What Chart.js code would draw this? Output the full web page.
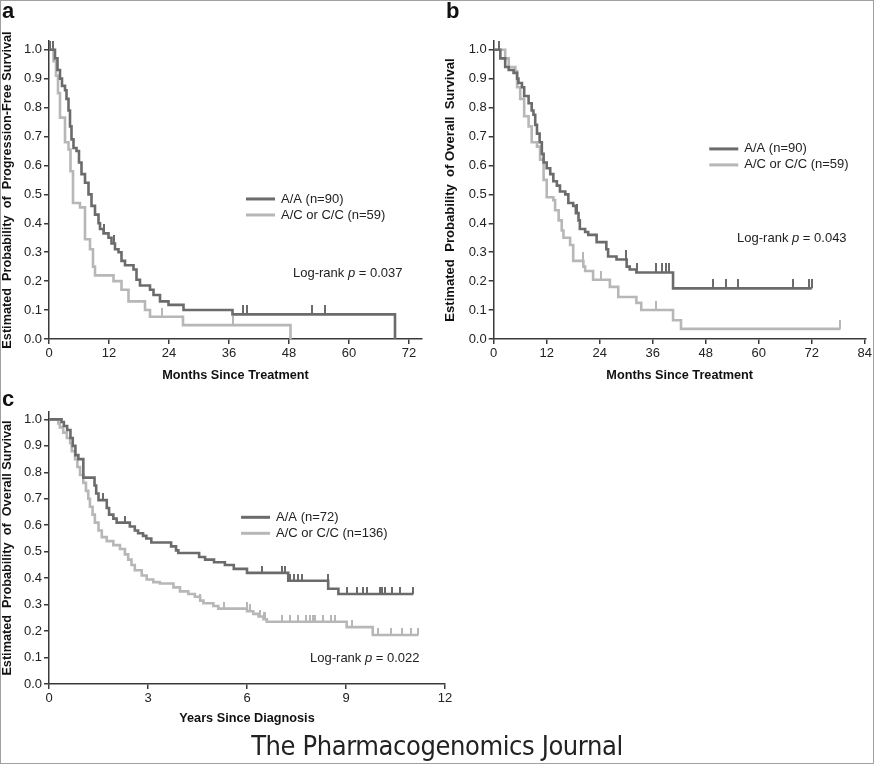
<!DOCTYPE html>
<html>
<head>
<meta charset="utf-8">
<title>Kaplan-Meier curves</title>
<script src="https://cdn.jsdelivr.net/npm/chart.js@4.4.0/dist/chart.umd.min.js"></script>
<style>
  html, body { margin: 0; padding: 0; background: #fff; }
  #page { position: relative; width: 874px; height: 764px; overflow: hidden; }
  #frame { position: absolute; left: 0; top: 0; right: 0; bottom: 0; border: 1px solid #a0a0a0; pointer-events: none; }
  .panel { position: absolute; }
  .tag { position: absolute; font: bold 22px "Liberation Sans", Arial, sans-serif; color: #111; line-height: 22px; }
  #journal { position: absolute; left: 0; width: 874px; top: 729px; line-height: 34px; text-align: center;
             font-family: "Liberation Sans Narrow", "DejaVu Sans Condensed", sans-serif; font-stretch: condensed;
             font-size: 27px; letter-spacing: -0.4px; color: #222; }
</style>
</head>
<body>
<div id="page">
  <div class="panel" style="left:0;top:0"><canvas id="chartA" width="437" height="385"></canvas></div>
  <div class="panel" style="left:437px;top:0"><canvas id="chartB" width="437" height="385"></canvas></div>
  <div class="panel" style="left:0;top:385px"><canvas id="chartC" width="460" height="345"></canvas></div>
  <div class="tag" style="left:2px;top:0">a</div>
  <div class="tag" style="left:446px;top:0">b</div>
  <div class="tag" style="left:2px;top:388px">c</div>
  <div id="journal">The Pharmacogenomics Journal</div>
  <div id="frame"></div>
</div>
<script>
// ---- panel a : progression-free survival (months) ----
const aTimeAA = [0, 1.2, 1.7, 2.2, 2.6, 3.2, 3.5, 3.9, 4.2, 4.5, 4.9, 5.5, 6.0, 6.5, 7.2, 7.9, 8.5, 9.2, 9.9, 10.2, 10.9, 11.9, 12.5, 13.2, 13.9, 14.5, 15.2, 16.9, 17.5, 18.2, 20.2, 20.9, 22.2, 23.9, 26.9, 36.7, 69.2];
const aSurvAA = [1, 0.97, 0.93, 0.90, 0.875, 0.86, 0.83, 0.79, 0.735, 0.69, 0.66, 0.65, 0.61, 0.57, 0.54, 0.50, 0.46, 0.43, 0.40, 0.38, 0.365, 0.35, 0.33, 0.31, 0.30, 0.27, 0.255, 0.24, 0.205, 0.185, 0.17, 0.152, 0.13, 0.118, 0.10, 0.085, 0];
const aCensAA = [0.2, 0.7, 11.0, 12.9, 38.7, 39.6, 52.5, 55.2];
const aTimeAC = [0, 0.9, 1.4, 1.8, 2.2, 3.2, 3.9, 4.3, 4.8, 6.2, 7.2, 8.2, 8.8, 9.2, 12.9, 14.5, 15.9, 19.2, 20.2, 26.8, 48.3];
const aSurvAC = [1, 0.96, 0.91, 0.85, 0.765, 0.68, 0.655, 0.58, 0.47, 0.455, 0.345, 0.31, 0.25, 0.22, 0.2, 0.17, 0.13, 0.1, 0.077, 0.048, 0];
const aCensAC = [22.5, 36.8];
const aXTicks = [0, 12, 24, 36, 48, 60, 72];

// ---- panel b : overall survival (months) ----
const bTimeAA = [0, 1.5, 2.6, 3.4, 4.5, 5.3, 5.6, 6.4, 6.9, 7.9, 8.6, 9.0, 9.4, 9.8, 10.4, 10.9, 11.3, 12.0, 12.8, 13.5, 14.3, 15.0, 16.2, 16.9, 18.0, 18.6, 19.2, 19.5, 20.7, 21.4, 23.3, 25.5, 25.9, 27.8, 30.1, 30.8, 32.3, 40.6, 72];
const bSurvAA = [1, 0.97, 0.94, 0.93, 0.92, 0.90, 0.885, 0.87, 0.84, 0.815, 0.79, 0.775, 0.74, 0.71, 0.68, 0.64, 0.61, 0.59, 0.57, 0.545, 0.53, 0.51, 0.50, 0.47, 0.46, 0.435, 0.41, 0.38, 0.37, 0.36, 0.335, 0.31, 0.285, 0.275, 0.25, 0.24, 0.23, 0.175, 0.175];
const bCensAA = [1.1, 18.8, 30.0, 32.5, 36.8, 38.1, 39.1, 39.6, 49.7, 52.6, 55.3, 67.8, 71.4, 72];
const bTimeAC = [0, 2.6, 3.4, 4.9, 5.3, 6.0, 6.9, 7.9, 8.6, 9.8, 10.5, 11.3, 12.0, 13.5, 13.9, 14.7, 15.4, 15.8, 17.3, 18.0, 20.3, 20.7, 22.5, 26.3, 28.2, 32.3, 33.4, 40.6, 42.4, 78.5];
const bSurvAC = [1, 0.97, 0.94, 0.925, 0.87, 0.83, 0.77, 0.735, 0.68, 0.665, 0.62, 0.55, 0.49, 0.48, 0.445, 0.41, 0.375, 0.35, 0.325, 0.27, 0.25, 0.235, 0.205, 0.18, 0.145, 0.125, 0.1, 0.065, 0.035, 0.035];
const bCensAC = [20.2, 24.3, 36.8, 78.4];
const bXTicks = [0, 12, 24, 36, 48, 60, 72, 84];

// ---- panel c : overall survival (years) ----
const cTimeAA = [0, 0.38, 0.45, 0.55, 0.65, 0.72, 0.8, 0.89, 1.04, 1.38, 1.43, 1.5, 1.75, 1.82, 1.95, 2.05, 2.45, 2.6, 2.7, 2.85, 2.95, 3.1, 3.7, 3.85, 3.92, 4.55, 4.73, 5.0, 5.33, 5.6, 6.0, 7.25, 8.46, 8.77, 11.04];
const cSurvAA = [1, 0.99, 0.975, 0.96, 0.93, 0.9, 0.865, 0.85, 0.78, 0.75, 0.72, 0.695, 0.665, 0.64, 0.625, 0.61, 0.595, 0.58, 0.57, 0.56, 0.55, 0.535, 0.52, 0.505, 0.495, 0.48, 0.47, 0.46, 0.45, 0.435, 0.42, 0.39, 0.36, 0.34, 0.34];
const cCensAA = [1.65, 2.3, 6.44, 7.06, 7.15, 7.3, 7.42, 7.54, 7.66, 8.44, 9.02, 9.32, 9.52, 9.64, 10.03, 10.1, 10.18, 10.38, 10.64, 11.04];
const cTimeAC = [0, 0.28, 0.33, 0.43, 0.54, 0.64, 0.69, 0.79, 0.86, 0.94, 1.04, 1.12, 1.19, 1.24, 1.32, 1.39, 1.5, 1.6, 1.75, 1.95, 2.15, 2.3, 2.4, 2.5, 2.6, 2.81, 2.96, 3.16, 3.36, 3.77, 3.97, 4.22, 4.42, 4.58, 4.68, 4.98, 5.13, 6.0, 6.19, 6.35, 6.5, 6.6, 9.02, 9.81, 11.19];
const cSurvAC = [1, 0.985, 0.97, 0.95, 0.93, 0.91, 0.88, 0.85, 0.82, 0.79, 0.76, 0.73, 0.70, 0.67, 0.64, 0.61, 0.58, 0.555, 0.54, 0.525, 0.51, 0.49, 0.47, 0.45, 0.43, 0.41, 0.395, 0.385, 0.38, 0.365, 0.35, 0.34, 0.33, 0.315, 0.305, 0.295, 0.285, 0.275, 0.265, 0.255, 0.245, 0.235, 0.215, 0.185, 0.185];
const cCensAC = [4.58, 5.3, 5.99, 6.09, 6.39, 6.5, 6.55, 7.05, 7.3, 7.56, 7.8, 7.9, 8.0, 8.06, 8.3, 8.55, 8.67, 9.17, 9.97, 10.37, 10.7, 10.96, 11.17];
const cXTicks = [0, 3, 6, 9, 12];

const yTicks = [0, 0.1, 0.2, 0.3, 0.4, 0.5, 0.6, 0.7, 0.8, 0.9, 1.0];

const darkGray = '#6b6b6b';
const lightGray = '#b7b7b7';
const axisColor = '#3a3a3a';

Chart.defaults.font.family = '"Liberation Sans", Arial, sans-serif';
Chart.defaults.font.size = 13;
Chart.defaults.color = '#222';

function curve(times, surv) {
  return times.map((t, i) => ({ x: t, y: surv[i] }));
}

// censored subjects sit on the step the curve is on at that time
function censored(times, stepT, stepS) {
  return times.map(t => {
    let s = stepS[0];
    stepT.forEach((st, i) => { if (st <= t) s = stepS[i]; });
    return { x: t, y: s };
  });
}

function tickMark(color, h) {
  const c = document.createElement('canvas');
  c.width = 2;
  c.height = h * 2;
  const g = c.getContext('2d');
  g.fillStyle = color;
  g.fillRect(0, 0, 2, h);
  return c;
}

// legend + log-rank text drawn inside the plot area
const kmText = {
  id: 'kmText',
  afterDatasetsDraw(chart, args, opts) {
    const { ctx, scales: { x, y } } = chart;
    ctx.save();
    ctx.font = '13px "Liberation Sans", Arial, sans-serif';
    ctx.textBaseline = 'middle';
    const lx = x.getPixelForValue(opts.legendAt[0]);
    const ly = y.getPixelForValue(opts.legendAt[1]);
    opts.items.forEach((it, i) => {
      const yy = ly + i * 16;
      ctx.strokeStyle = it.color;
      ctx.lineWidth = 3;
      ctx.beginPath();
      ctx.moveTo(lx, yy);
      ctx.lineTo(lx + 29, yy);
      ctx.stroke();
      ctx.fillStyle = '#222';
      ctx.fillText(it.label, lx + 35, yy);
    });
    let px = x.getPixelForValue(opts.logRankAt[0]);
    const py = y.getPixelForValue(opts.logRankAt[1]);
    const parts = [['Log-rank ', ''], ['p', 'italic '], [' = ' + opts.p, '']];
    parts.forEach(([txt, style]) => {
      ctx.font = style + '13px "Liberation Sans", Arial, sans-serif';
      ctx.fillText(txt, px, py);
      px += ctx.measureText(txt).width;
    });
    ctx.restore();
  }
};

function makeChart(id, p) {
  const darkTick = tickMark(darkGray, p.tickH);
  const lightTick = tickMark(lightGray, p.tickH);
  new Chart(document.getElementById(id), {
    type: 'line',
    data: {
      datasets: [
        { label: 'cens1', data: censored(p.censAA, p.timeAA, p.survAA), showLine: false,
          pointStyle: darkTick, pointRadius: 4, clip: false },
        { label: p.labelAA, data: curve(p.timeAA, p.survAA), stepped: true,
          borderColor: darkGray, borderWidth: 2.6, pointRadius: 0, fill: false },
        { label: 'cens2', data: censored(p.censAC, p.timeAC, p.survAC), showLine: false,
          pointStyle: lightTick, pointRadius: 4, clip: false },
        { label: p.labelAC, data: curve(p.timeAC, p.survAC), stepped: true,
          borderColor: lightGray, borderWidth: 2.6, pointRadius: 0, fill: false }
      ]
    },
    options: {
      responsive: false,
      animation: false,
      events: [],
      layout: { padding: p.padding },
      scales: {
        x: {
          type: 'linear', min: 0, max: p.xMax,
          afterBuildTicks: s => { s.ticks = p.xTicks.map(v => ({ value: v })); },
          afterFit: s => { s.height = p.xHeight; },
          grid: { display: true, drawOnChartArea: false, drawTicks: true, tickLength: 5, color: axisColor, lineWidth: 1.5 },
          border: { display: true, color: axisColor, width: 1.5 },
          ticks: { padding: 2, maxRotation: 0, autoSkip: false, color: '#222' },
          title: { display: true, text: p.xTitle, color: '#111',
                   font: { size: 12.7, weight: 'bold' }, padding: { top: 0, bottom: p.xTitlePad } }
        },
        y: {
          min: 0, max: p.yMax,
          afterBuildTicks: s => { s.ticks = yTicks.map(v => ({ value: v })); },
          afterFit: s => { s.width = p.yWidth; },
          grid: { display: true, drawOnChartArea: false, drawTicks: true, tickLength: 5, color: axisColor, lineWidth: 1.5 },
          border: { display: true, color: axisColor, width: 1.5 },
          ticks: { padding: 2, color: '#222', callback: v => v.toFixed(1) },
          title: { display: true, text: p.yTitle, color: '#111',
                   font: { size: p.yTitleSize, weight: 'bold' }, padding: { top: 0, bottom: 0 } }
        }
      },
      plugins: {
        legend: { display: false },
        tooltip: { enabled: false },
        kmText: {
          items: [{ label: p.labelAA, color: darkGray }, { label: p.labelAC, color: lightGray }],
          legendAt: p.legendAt, logRankAt: p.logRankAt, p: p.pValue
        }
      }
    },
    plugins: [kmText]
  });
}

makeChart('chartA', {
  timeAA: aTimeAA, survAA: aSurvAA, censAA: aCensAA,
  timeAC: aTimeAC, survAC: aSurvAC, censAC: aCensAC,
  labelAA: 'A/A (n=90)', labelAC: 'A/C or C/C (n=59)', pValue: '0.037',
  xTicks: aXTicks, xMax: 74.6, yMax: 1.03, tickH: 9,
  padding: { left: 0, top: 41, right: 15, bottom: 0 }, yWidth: 49, xHeight: 46, xTitlePad: 2,
  xTitle: 'Months Since Treatment', yTitleSize: 12.7,
  yTitle: 'Estimated  Probability  of  Progression-Free Survival',
  legendAt: [39.4, 0.484], logRankAt: [48.8, 0.228]
});

makeChart('chartB', {
  timeAA: bTimeAA, survAA: bSurvAA, censAA: bCensAA,
  timeAC: bTimeAC, survAC: bSurvAC, censAC: bCensAC,
  labelAA: 'A/A (n=90)', labelAC: 'A/C or C/C (n=59)', pValue: '0.043',
  xTicks: bXTicks, xMax: 84.2, yMax: 1.03, tickH: 9,
  padding: { left: 6, top: 41, right: 7, bottom: 0 }, yWidth: 50.7, xHeight: 46, xTitlePad: 2,
  xTitle: 'Months Since Treatment', yTitleSize: 13.1,
  yTitle: 'Estimated  Probability  of Overall  Survival',
  legendAt: [48.8, 0.657], logRankAt: [55.1, 0.349]
});

makeChart('chartC', {
  timeAA: cTimeAA, survAA: cSurvAA, censAA: cCensAA,
  timeAC: cTimeAC, survAC: cSurvAC, censAC: cCensAC,
  labelAA: 'A/A (n=72)', labelAC: 'A/C or C/C (n=136)', pValue: '0.022',
  xTicks: cXTicks, xMax: 12, yMax: 1.028, tickH: 7,
  padding: { left: 0, top: 27, right: 15, bottom: 0 }, yWidth: 49, xHeight: 46, xTitlePad: 4,
  xTitle: 'Years Since Diagnosis', yTitleSize: 12.7,
  yTitle: 'Estimated  Probability  of  Overall Survival',
  legendAt: [5.82, 0.63], logRankAt: [7.91, 0.098]
});
</script>
</body>
</html>
